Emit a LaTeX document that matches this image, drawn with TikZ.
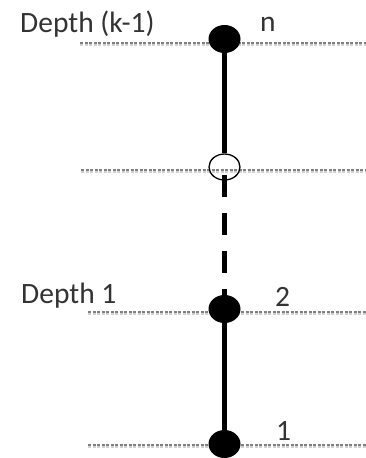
\documentclass[tikz,border=0pt]{standalone}
\usepackage{fontspec}
\setmainfont{Carlito}
\usetikzlibrary{shapes.geometric}
\pgfdeclarelayer{background}
\pgfsetlayers{background,main}
\begin{document}
\begin{tikzpicture}[x=1pt,y=-1pt,
  guide/.style={draw=black!50,line width=1.1pt,dash pattern=on 3pt off 1.5pt},
  guideshadow/.style={draw=black!18,line width=1.1pt,dash pattern=on 3pt off 1.5pt},
  dot/.style={ellipse,fill=black,minimum width=32pt,minimum height=28pt,inner sep=0pt},
  hollow/.style={ellipse,draw=black,line width=1.3pt,minimum width=31pt,minimum height=26pt,inner sep=0pt},
  stem/.style={line width=4.2pt,black},
  lbl/.style={font=\fontsize{29.5}{31}\selectfont,text=black!80,anchor=base west,inner sep=0pt}]
\useasboundingbox (0,0) rectangle (366,458);
% guide lines
\draw[guideshadow] (80,45) -- (366,45);
\draw[guide] (80,43) -- (366,43);
\draw[guideshadow] (81,172) -- (366,172);
\draw[guide] (81,170) -- (366,170);
\draw[guideshadow] (88,314) -- (366,314);
\draw[guide] (88,312) -- (366,312);
\draw[guideshadow] (88,447) -- (366,447);
\draw[guide] (88,445) -- (366,445);
% nodes
\node[dot] (n) at (224.5,39) {};
\node[hollow] (m) at (224.5,167) {};
\node[dot] (two) at (224.5,309) {};
\node[dot] (one) at (224.5,444) {};
\begin{pgfonlayer}{background}
\draw[stem] (n.center) -- (m.north);
\draw[stem,dash pattern=on 22pt off 16pt] ([yshift=-8pt]m.center) -- (two.center);
\draw[stem] (two.center) -- (one.center);
\end{pgfonlayer}
% labels
\node[lbl] (t1) at (20,32) {Depth (k-1)};
\node[lbl] (t2) at (260,31) {n};
\node[lbl] (t3) at (21,303) {Depth 1};
\node[lbl] (t4) at (275,306) {2};
\node[lbl] (t5) at (276,440) {1};
\end{tikzpicture}
\end{document}
